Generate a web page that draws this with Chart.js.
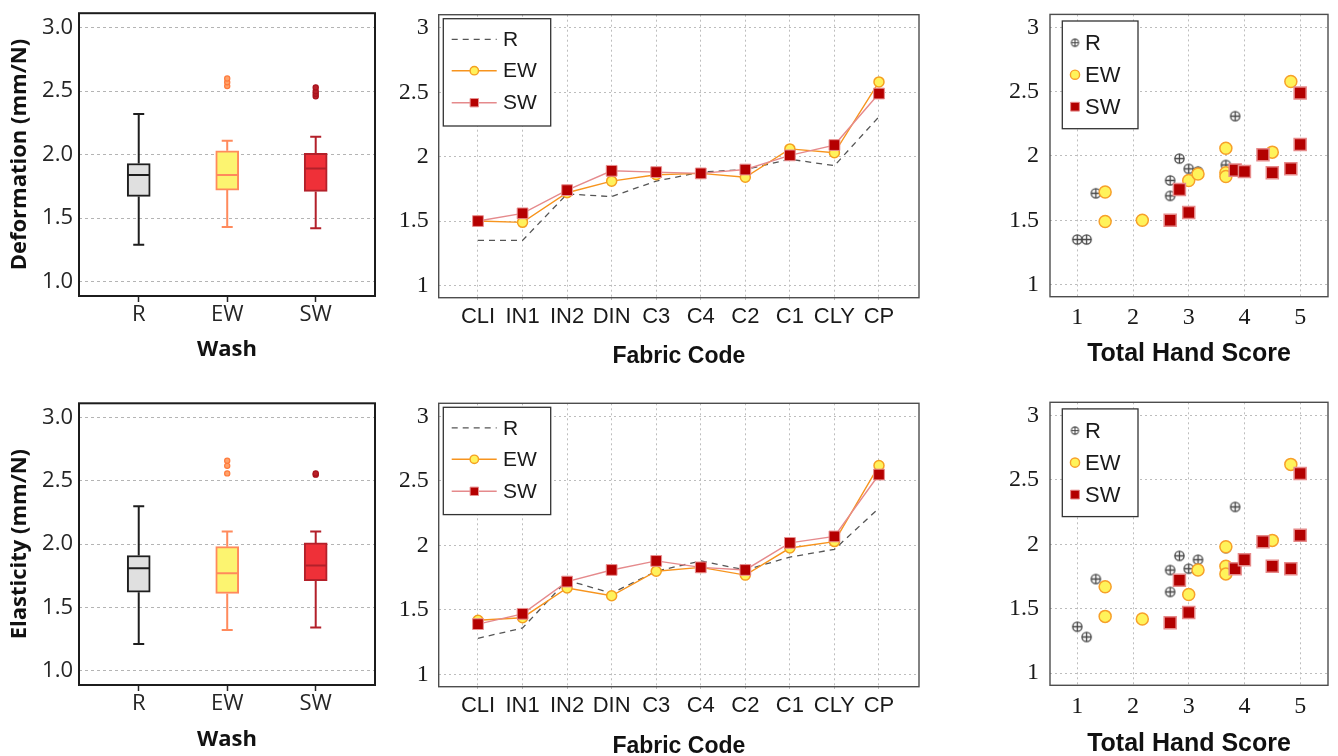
<!DOCTYPE html>
<html>
<head>
<meta charset="utf-8">
<script src="https://cdn.jsdelivr.net/npm/chart.js@4.4.1/dist/chart.umd.min.js"></script>
<style>
  html, body { margin: 0; padding: 0; background: #fff; overflow: hidden; width: 1338px; height: 756px; }
  canvas { position: absolute; }
</style>
</head>
<body>
<canvas id="boxDef" width="385" height="378" style="left:0;top:0"></canvas>
<canvas id="lineDef" width="538" height="378" style="left:400px;top:0"></canvas>
<canvas id="scatDef" width="358" height="378" style="left:980px;top:0"></canvas>
<canvas id="boxEla" width="385" height="390" style="left:0;top:378px"></canvas>
<canvas id="lineEla" width="538" height="390" style="left:400px;top:378px"></canvas>
<canvas id="scatEla" width="358" height="390" style="left:980px;top:378px"></canvas>
<script>
/* ===== dados ===== */
const washGroups = ["R", "EW", "SW"];

// box plots - deformação
const defQ1 = [1.67, 1.72, 1.71];
const defMed = [1.84, 1.84, 1.89];
const defQ3 = [1.93, 2.03, 2.01];
const defLo = [1.29, 1.43, 1.42];
const defHi = [2.32, 2.11, 2.14];
const defOutEW = [2.54, 2.57, 2.60];
const defOutSW = [2.46, 2.48, 2.50, 2.53];

// box plots - elasticidade
const elaQ1 = [1.62, 1.61, 1.71];
const elaMed = [1.81, 1.77, 1.83];
const elaQ3 = [1.91, 1.98, 2.01];
const elaLo = [1.21, 1.32, 1.34];
const elaHi = [2.30, 2.10, 2.10];
const elaOutEW = [2.56, 2.62, 2.66];
const elaOutSW = [2.55, 2.56];

// por tecido
const fabricCodes = ["CLI", "IN1", "IN2", "DIN", "C3", "C4", "C2", "C1", "CLY", "CP"];
const defR  = [1.35, 1.35, 1.71, 1.69, 1.81, 1.88, 1.90, 1.98, 1.93, 2.31];
const defEW = [1.50, 1.49, 1.72, 1.81, 1.86, 1.87, 1.84, 2.06, 2.03, 2.58];
const defSW = [1.50, 1.56, 1.74, 1.89, 1.88, 1.87, 1.90, 2.01, 2.09, 2.49];
const elaR  = [1.28, 1.36, 1.73, 1.63, 1.80, 1.88, 1.81, 1.91, 1.97, 2.29];
const elaEW = [1.42, 1.44, 1.67, 1.61, 1.80, 1.83, 1.77, 1.98, 2.03, 2.62];
const elaSW = [1.39, 1.47, 1.72, 1.81, 1.88, 1.83, 1.81, 2.02, 2.07, 2.55];

// total hand score por tecido
const handR  = [1.167, 1, 1.333, 2.667, 2.667, 3.167, 3, 2.833, 3.667, 3.833];
const handEW = [2.167, 1.5, 1.5, 3, 3.167, 3.667, 3.667, 3.667, 4.5, 4.833];
const handSW = [2.667, 3, 2.833, 3.833, 4, 4.5, 4.833, 4.333, 5, 5];

const yTicks = [1, 1.5, 2, 2.5, 3];
const handTicks = [1, 2, 3, 4, 5];

/* ===== estilos ===== */
const BOX_FONT = "'Open Sans', 'Noto Sans', sans-serif";
const SANS = "'Liberation Sans', Arial, sans-serif";
const SERIF = "'Liberation Serif', 'Times New Roman', serif";
const NONE = "rgba(0,0,0,0)";

const boxFill = ["#e0e0e0", "#fcf470", "#ef3038"];
const boxLine = ["#1e1e1e", "#ff8a5c", "#b3202a"];
const outFill = [null, "#ffa26a", "#b82028"];
const outLine = [null, "#ff7a3c", "#a8121c"];

const plusImg = plusCircle(4.6, "#454545", 1.3);
const plusImgSmall = plusCircle(3.6, "#454545", 1.1);

function plusCircle(r, color, lw) {
  const s = Math.ceil(2 * r + lw + 2);
  const c = document.createElement("canvas");
  c.width = s; c.height = s;
  const g = c.getContext("2d");
  const m = s / 2;
  g.strokeStyle = color; g.lineWidth = lw;
  g.beginPath(); g.arc(m, m, r, 0, Math.PI * 2); g.stroke();
  g.beginPath();
  g.moveTo(m - r, m); g.lineTo(m + r, m);
  g.moveTo(m, m - r); g.lineTo(m, m + r);
  g.stroke();
  return c;
}

/* ===== utilitários ===== */
function fitArea(W, H, a) {
  return {
    padding: { left: 0, top: a.t, right: W - a.r, bottom: 0 },
    yFit: s => { s.width = a.l; },
    xFit: s => { s.height = H - a.b; }
  };
}

function framePlugin(color, width) {
  return {
    id: "frame",
    afterDraw(chart) {
      const { ctx, chartArea: c } = chart;
      ctx.save();
      ctx.strokeStyle = color;
      ctx.lineWidth = width;
      ctx.strokeRect(c.left, c.top, c.right - c.left, c.bottom - c.top);
      ctx.restore();
    }
  };
}

function drawMarker(ctx, m, x, y) {
  ctx.save();
  if (m.shape === "image") {
    ctx.drawImage(m.img, x - m.img.width / 2, y - m.img.height / 2);
  } else {
    ctx.beginPath();
    if (m.shape === "circle") ctx.arc(x, y, m.r, 0, Math.PI * 2);
    else ctx.rect(x - m.r, y - m.r, 2 * m.r, 2 * m.r);
    ctx.fillStyle = m.fill; ctx.fill();
    ctx.strokeStyle = m.stroke; ctx.lineWidth = m.lw; ctx.stroke();
  }
  ctx.restore();
}

function legendPlugin(cfg) {
  return {
    id: "insideLegend",
    afterDraw(chart) {
      const { ctx, chartArea: a } = chart;
      const x0 = a.left + cfg.dx, y0 = a.top + cfg.dy;
      ctx.save();
      ctx.fillStyle = "#fff";
      ctx.fillRect(x0, y0, cfg.w, cfg.h);
      ctx.strokeStyle = "#333";
      ctx.lineWidth = 1.3;
      ctx.strokeRect(x0, y0, cfg.w, cfg.h);
      cfg.items.forEach((it, i) => {
        const y = y0 + cfg.rowY[i];
        if (it.line) {
          ctx.beginPath();
          ctx.setLineDash(it.dash || []);
          ctx.strokeStyle = it.line;
          ctx.lineWidth = it.lw || 1.4;
          ctx.moveTo(x0 + cfg.lineX[0], y);
          ctx.lineTo(x0 + cfg.lineX[1], y);
          ctx.stroke();
          ctx.setLineDash([]);
        }
        if (it.marker) drawMarker(ctx, it.marker, x0 + cfg.markX, y);
        ctx.fillStyle = "#1a1a1a";
        ctx.font = cfg.font;
        ctx.textBaseline = "middle";
        ctx.textAlign = "left";
        ctx.fillText(it.label, x0 + cfg.textX, y + 1);
      });
      ctx.restore();
    }
  };
}

function whiskerPlugin(q1, med, q3, lo, hi) {
  return {
    id: "whiskers",
    afterDatasetsDraw(chart) {
      const { ctx, scales: { x, y } } = chart;
      ctx.save();
      ctx.lineWidth = 2;
      washGroups.forEach((g, i) => {
        const px = x.getPixelForValue(i);
        ctx.strokeStyle = boxLine[i];
        ctx.beginPath();
        ctx.moveTo(px, y.getPixelForValue(q3[i])); ctx.lineTo(px, y.getPixelForValue(hi[i]));
        ctx.moveTo(px, y.getPixelForValue(q1[i])); ctx.lineTo(px, y.getPixelForValue(lo[i]));
        ctx.moveTo(px - 5.5, y.getPixelForValue(hi[i])); ctx.lineTo(px + 5.5, y.getPixelForValue(hi[i]));
        ctx.moveTo(px - 5.5, y.getPixelForValue(lo[i])); ctx.lineTo(px + 5.5, y.getPixelForValue(lo[i]));
        ctx.moveTo(px - 11, y.getPixelForValue(med[i])); ctx.lineTo(px + 11, y.getPixelForValue(med[i]));
        ctx.stroke();
      });
      ctx.restore();
    }
  };
}

/* ===== box plots ===== */
function boxChart(id, H, area, title, q1, med, q3, lo, hi, outEW, outSW) {
  const W = 385;
  const fit = fitArea(W, H, area);
  const outs = [...outEW.map(v => ({ x: 1, y: v })), ...outSW.map(v => ({ x: 2, y: v }))];
  return new Chart(document.getElementById(id), {
    type: "bar",
    data: {
      datasets: [
        {
          type: "bar",
          data: washGroups.map((g, i) => ({ x: i, y: [q1[i], q3[i]] })),
          backgroundColor: boxFill,
          borderColor: boxLine,
          borderWidth: 2,
          borderSkipped: false,
          barThickness: 23
        },
        {
          type: "scatter",
          data: outs,
          pointRadius: 2.6,
          pointBorderWidth: 1.2,
          pointBackgroundColor: outs.map(p => outFill[p.x]),
          pointBorderColor: outs.map(p => outLine[p.x])
        }
      ]
    },
    options: {
      responsive: false,
      animation: false,
      devicePixelRatio: 1,
      layout: { padding: fit.padding },
      plugins: { legend: { display: false }, tooltip: { enabled: false } },
      scales: {
        x: {
          type: "linear", min: -0.675, max: 2.67, offset: false,
          afterFit: fit.xFit,
          afterBuildTicks: s => { s.ticks = washGroups.map((g, i) => ({ value: i })); },
          ticks: { callback: v => washGroups[v], font: { family: BOX_FONT, size: 22 }, color: "#262626", padding: 0, autoSkip: false, maxRotation: 0 },
          grid: { offset: false, drawOnChartArea: false, drawTicks: true, tickLength: 6, tickColor: "#222", tickWidth: 1.5 },
          border: { display: false },
          title: { display: true, text: "Wash", font: { family: BOX_FONT, size: 22, weight: "bold" }, color: "#111", padding: { top: 0, bottom: 15 } }
        },
        y: {
          min: 0.885, max: 3.115,
          afterFit: fit.yFit,
          afterBuildTicks: s => { s.ticks = yTicks.map(v => ({ value: v })); },
          ticks: { callback: v => v.toFixed(1), font: { family: BOX_FONT, size: 22 }, color: "#262626", padding: 0 },
          grid: { color: "#b4b4b4", drawTicks: true, tickLength: 6, tickColor: NONE },
          border: { display: false, dash: [3, 3] },
          title: { display: true, text: title, font: { family: BOX_FONT, size: 22, weight: "bold" }, color: "#111", padding: { top: 6.8, bottom: 0 } }
        }
      }
    },
    plugins: [whiskerPlugin(q1, med, q3, lo, hi), framePlugin("#1c1c1c", 2)]
  });
}

/* ===== linhas por tecido ===== */
const lineLegendItems = [
  { label: "R", line: "#555", dash: [6, 5], lw: 1.3 },
  { label: "EW", line: "#f7941e", marker: { shape: "circle", r: 4.2, fill: "#fff25c", stroke: "#f5a020", lw: 1.4 } },
  { label: "SW", line: "#e58a8c", marker: { shape: "rect", r: 4.2, fill: "#b50000", stroke: "#e89090", lw: 1 } }
];

function lineChart(id, H, area, r, ew, sw) {
  const W = 538;
  const fit = fitArea(W, H, area);
  const pts = arr => arr.map((v, i) => ({ x: i, y: v }));
  return new Chart(document.getElementById(id), {
    type: "line",
    data: {
      datasets: [
        { label: "R", data: pts(r), borderColor: "#555", borderWidth: 1.3, borderDash: [6, 5], pointRadius: 0, fill: false, order: 2 },
        { label: "EW", data: pts(ew), borderColor: "#f7941e", borderWidth: 1.4, pointStyle: "circle", pointRadius: 5, pointBackgroundColor: "#fff25c", pointBorderColor: "#f5a020", pointBorderWidth: 1.5, fill: false, order: 1 },
        { label: "SW", data: pts(sw), borderColor: "#e58a8c", borderWidth: 1.4, pointStyle: "rect", pointRadius: 7.6, pointBackgroundColor: "#b50000", pointBorderColor: "#e89090", pointBorderWidth: 1, fill: false, order: 0 }
      ]
    },
    options: {
      responsive: false,
      animation: false,
      devicePixelRatio: 1,
      layout: { padding: fit.padding },
      plugins: { legend: { display: false }, tooltip: { enabled: false } },
      scales: {
        x: {
          type: "linear", min: -0.882, max: 9.898,
          afterFit: fit.xFit,
          afterBuildTicks: s => { s.ticks = fabricCodes.map((c, i) => ({ value: i })); },
          ticks: { callback: v => fabricCodes[v], font: { family: SANS, size: 22 }, color: "#1a1a1a", padding: 1, autoSkip: false, maxRotation: 0 },
          grid: { color: "#bdbdbd", drawTicks: true, tickLength: 5, tickColor: "#bdbdbd", tickBorderDash: [2, 3] },
          border: { display: false, dash: [2, 3] },
          title: { display: true, text: "Fabric Code", font: { family: SANS, size: 23, weight: "bold" }, color: "#111", padding: { top: 0, bottom: 8 } }
        },
        y: {
          min: 0.905, max: 3.102,
          afterFit: fit.yFit,
          afterBuildTicks: s => { s.ticks = yTicks.map(v => ({ value: v })); },
          ticks: { callback: v => String(v), font: { family: SERIF, size: 24 }, color: "#1a1a1a", padding: 0 },
          grid: { color: "#bdbdbd", drawTicks: true, tickLength: 10, tickColor: NONE },
          border: { display: false, dash: [2, 3] }
        }
      }
    },
    plugins: [
      framePlugin("#4d4d4d", 1.4),
      legendPlugin({ dx: 4.6, dy: 4, w: 107.4, h: 107.3, rowY: [20.6, 52, 84], lineX: [8.4, 53.4], markX: 31, textX: 59.7, font: "21px " + SANS, items: lineLegendItems })
    ]
  });
}

/* ===== dispersão vs total hand score ===== */
const scatLegendItems = [
  { label: "R", marker: { shape: "image", img: plusImgSmall } },
  { label: "EW", marker: { shape: "circle", r: 4.6, fill: "#fff35a", stroke: "#f7a02a", lw: 1.4 } },
  { label: "SW", marker: { shape: "rect", r: 4.4, fill: "#b30000", stroke: "#e68a8a", lw: 1 } }
];

function scatChart(id, H, area, r, ew, sw) {
  const W = 358;
  const fit = fitArea(W, H, area);
  const pts = (xs, ys) => ys.map((v, i) => ({ x: xs[i], y: v }));
  return new Chart(document.getElementById(id), {
    type: "scatter",
    data: {
      datasets: [
        { label: "R", data: pts(handR, r), pointStyle: plusImg, pointRadius: 5, order: 2 },
        { label: "EW", data: pts(handEW, ew), pointStyle: "circle", pointRadius: 6, pointBackgroundColor: "#fff35a", pointBorderColor: "#f7a02a", pointBorderWidth: 1.5, order: 1 },
        { label: "SW", data: pts(handSW, sw), pointStyle: "rect", pointRadius: 8.5, pointBackgroundColor: "#b30000", pointBorderColor: "#e68a8a", pointBorderWidth: 1.5, order: 0 }
      ]
    },
    options: {
      responsive: false,
      animation: false,
      devicePixelRatio: 1,
      layout: { padding: fit.padding },
      plugins: { legend: { display: false }, tooltip: { enabled: false } },
      scales: {
        x: {
          type: "linear", min: 0.51, max: 5.5,
          afterFit: fit.xFit,
          afterBuildTicks: s => { s.ticks = handTicks.map(v => ({ value: v })); },
          ticks: { callback: v => String(v), font: { family: SERIF, size: 24 }, color: "#1a1a1a", padding: 7, autoSkip: false, maxRotation: 0 },
          grid: { color: "#bdbdbd", drawTicks: false },
          border: { display: false, dash: [2, 3] },
          title: { display: true, text: "Total Hand Score", font: { family: SANS, size: 25, weight: "bold" }, color: "#111", padding: { top: 0, bottom: 9.3 } }
        },
        y: {
          min: 0.905, max: 3.102,
          afterFit: fit.yFit,
          afterBuildTicks: s => { s.ticks = yTicks.map(v => ({ value: v })); },
          ticks: { callback: v => String(v), font: { family: SERIF, size: 24 }, color: "#1a1a1a", padding: 0 },
          grid: { color: "#bdbdbd", drawTicks: true, tickLength: 11, tickColor: NONE },
          border: { display: false, dash: [2, 3] }
        }
      }
    },
    plugins: [
      framePlugin("#4d4d4d", 1.4),
      legendPlugin({ dx: 12.3, dy: 6.6, w: 75.7, h: 107.7, rowY: [21.7, 53.7, 85.7], markX: 12.7, textX: 22.7, font: "22px " + SANS, items: scatLegendItems })
    ]
  });
}

/* ===== montagem ===== */
boxChart("boxDef", 378, { l: 79, t: 13, r: 375, b: 296 }, "Deformation (mm/N)", defQ1, defMed, defQ3, defLo, defHi, defOutEW, defOutSW);
boxChart("boxEla", 390, { l: 79, t: 25.3, r: 375, b: 307 }, "Elasticity (mm/N)", elaQ1, elaMed, elaQ3, elaLo, elaHi, elaOutEW, elaOutSW);
lineChart("lineDef", 378, { l: 38.7, t: 14.7, r: 519, b: 297.7 }, defR, defEW, defSW);
lineChart("lineEla", 390, { l: 38.7, t: 25.3, r: 519, b: 308.7 }, elaR, elaEW, elaSW);
scatChart("scatDef", 378, { l: 70, t: 13.7, r: 354, b: 296.7 }, defR, defEW, defSW);
scatChart("scatEla", 390, { l: 70, t: 24.3, r: 354, b: 307.3 }, elaR, elaEW, elaSW);
</script>
</body>
</html>
